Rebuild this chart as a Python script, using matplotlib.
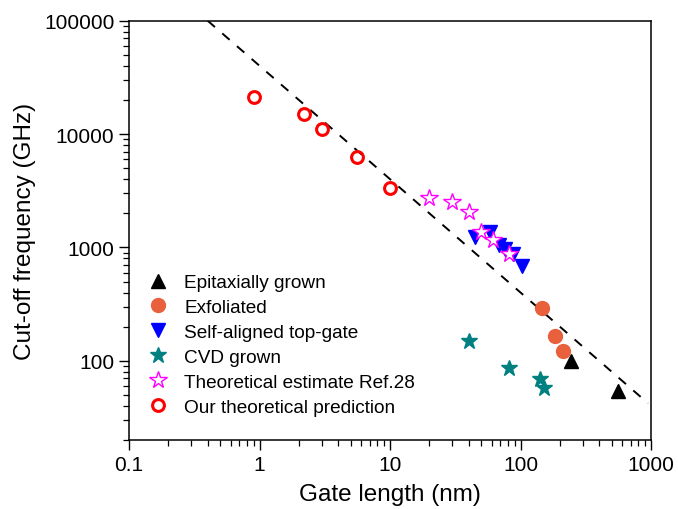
import matplotlib
matplotlib.use("Agg")
import matplotlib.pyplot as plt
import numpy as np

plt.rcParams['font.family'] = ['Liberation Sans', 'DejaVu Sans']

# Data
epi_x = [243, 556]
epi_y = [99, 54]

exf_x = [145, 184, 213]
exf_y = [294, 164, 121]

sat_x = [45, 58, 68, 76, 88, 102]
sat_y = [1230, 1360, 1050, 960, 870, 690]

cvd_x = [40.5, 81, 141, 151]
cvd_y = [149, 86, 69, 57]

ref28_x = [20, 30, 40, 50, 61, 81]
ref28_y = [2720, 2490, 2050, 1360, 1170, 870]

ours_x = [0.9, 2.2, 3.0, 5.6, 10]
ours_y = [21200, 14900, 11000, 6300, 3330]

fit_x = [0.4, 950]
fit_const = 40000

fig = plt.figure(figsize=(6.78, 5.10), dpi=100)
ax = fig.add_axes([0.1903, 0.1353, 0.7699, 0.8222])

fx = np.array(fit_x)
ax.plot(fx, fit_const / fx, color='black', lw=1.4, ls=(0, (5, 5)), zorder=1)

ax.plot(epi_x, epi_y, ls='none', marker='^', ms=10, color='black', label='Epitaxially grown', zorder=3)
ax.plot(exf_x, exf_y, ls='none', marker='o', ms=10, color='#E8603C', mec='#E8603C', label='Exfoliated', zorder=3)
ax.plot(sat_x, sat_y, ls='none', marker='v', ms=10, color='#0000FF', label='Self-aligned top-gate', zorder=3)
ax.plot(cvd_x, cvd_y, ls='none', marker='*', ms=12, color='#008080', label='CVD grown', zorder=3)
ax.plot(ref28_x, ref28_y, ls='none', marker='*', ms=13, mfc='white', mec='#FF00FF', mew=1.0,
        label='Theoretical estimate Ref.28', zorder=4)
ax.plot(ours_x, ours_y, ls='none', marker='o', ms=8.5, mfc='none', mec='#FF0000', mew=2.2,
        label='Our theoretical prediction', zorder=3)

ax.set_xscale('log')
ax.set_yscale('log')
ax.set_xlim(0.1, 1000)
ax.set_ylim(20, 100000)

ax.set_xticks([0.1, 1, 10, 100, 1000])
ax.set_xticklabels(['0.1', '1', '10', '100', '1000'])
ax.set_yticks([100, 1000, 10000, 100000])
ax.set_yticklabels(['100', '1000', '10000', '100000'])

ax.tick_params(axis='both', which='major', direction='out', length=7, width=1.0, labelsize=15,
               top=False, right=False)
ax.tick_params(axis='both', which='minor', direction='out', length=4, width=0.9, top=False, right=False)
for s in ax.spines.values():
    s.set_linewidth(1.1)

ax.set_xlabel('Gate length (nm)', fontsize=17.5, labelpad=7)
ax.set_ylabel('Cut-off frequency (GHz)', fontsize=17.5, labelpad=6)

leg = ax.legend(loc='upper left', bbox_to_anchor=(0.0, 0.437), frameon=False, fontsize=13.7,
                handlelength=1.2, handletextpad=0.8, labelspacing=0.4, borderaxespad=0.5)

fig.savefig('out.png', dpi=100)
